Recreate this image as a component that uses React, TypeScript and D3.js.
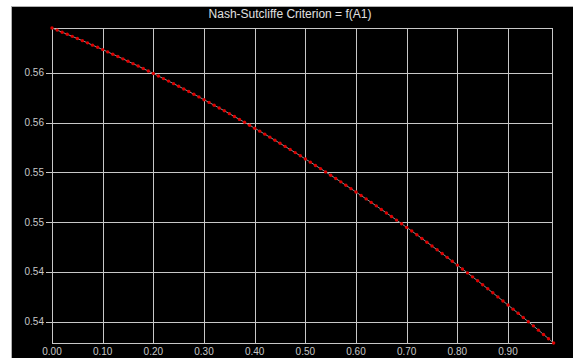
import React, { useEffect, useRef } from "react";
import * as d3 from "d3";

// A1 parameter values (x) and Nash-Sutcliffe criterion (y)
const a1Values: number[] = [
  0.00, 0.01, 0.02, 0.03, 0.04, 0.05, 0.06, 0.07, 0.08, 0.09,
  0.10, 0.11, 0.12, 0.13, 0.14, 0.15, 0.16, 0.17, 0.18, 0.19,
  0.20, 0.21, 0.22, 0.23, 0.24, 0.25, 0.26, 0.27, 0.28, 0.29,
  0.30, 0.31, 0.32, 0.33, 0.34, 0.35, 0.36, 0.37, 0.38, 0.39,
  0.40, 0.41, 0.42, 0.43, 0.44, 0.45, 0.46, 0.47, 0.48, 0.49,
  0.50, 0.51, 0.52, 0.53, 0.54, 0.55, 0.56, 0.57, 0.58, 0.59,
  0.60, 0.61, 0.62, 0.63, 0.64, 0.65, 0.66, 0.67, 0.68, 0.69,
  0.70, 0.71, 0.72, 0.73, 0.74, 0.75, 0.76, 0.77, 0.78, 0.79,
  0.80, 0.81, 0.82, 0.83, 0.84, 0.85, 0.86, 0.87, 0.88, 0.89,
  0.90, 0.91, 0.92, 0.93, 0.94, 0.95, 0.96, 0.97, 0.98, 0.99,
];

const nashValues: number[] = [
  0.56699, 0.56678, 0.56657, 0.56636, 0.56615, 0.56593, 0.56572, 0.56550, 0.56527, 0.56505,
  0.56482, 0.56459, 0.56436, 0.56413, 0.56389, 0.56365, 0.56341, 0.56317, 0.56292, 0.56267,
  0.56242, 0.56217, 0.56191, 0.56166, 0.56140, 0.56114, 0.56087, 0.56061, 0.56034, 0.56007,
  0.55979, 0.55952, 0.55924, 0.55896, 0.55868, 0.55839, 0.55810, 0.55781, 0.55752, 0.55723,
  0.55693, 0.55663, 0.55633, 0.55603, 0.55572, 0.55541, 0.55510, 0.55479, 0.55448, 0.55416,
  0.55384, 0.55352, 0.55319, 0.55287, 0.55254, 0.55221, 0.55188, 0.55154, 0.55120, 0.55086,
  0.55052, 0.55017, 0.54983, 0.54948, 0.54913, 0.54877, 0.54842, 0.54806, 0.54770, 0.54733,
  0.54697, 0.54660, 0.54623, 0.54586, 0.54548, 0.54510, 0.54472, 0.54434, 0.54396, 0.54357,
  0.54318, 0.54279, 0.54240, 0.54200, 0.54161, 0.54121, 0.54080, 0.54040, 0.53999, 0.53958,
  0.53917, 0.53876, 0.53834, 0.53792, 0.53750, 0.53708, 0.53665, 0.53622, 0.53579, 0.53536,
];

const xTicks: number[] = [0, 0.1, 0.2, 0.3, 0.4, 0.5, 0.6, 0.7, 0.8, 0.9];
const yTicks: number[] = [0.5625, 0.5575, 0.5525, 0.5475, 0.5425, 0.5375];

const title = "Nash-Sutcliffe Criterion = f(A1)";

export default function App() {
  const ref = useRef<SVGSVGElement | null>(null);

  useEffect(() => {
    const width = 573;
    const height = 358;
    const margin = { top: 28, left: 52, bottom: 15, right: 21 };
    const iwidth = width - margin.left - margin.right;
    const iheight = height - margin.top - margin.bottom;

    const svg = d3.select(ref.current);
    svg.selectAll("*").remove();

    svg.append("rect").attr("width", width).attr("height", height).attr("fill", "#fff");
    svg.append("rect")
      .attr("x", 11.5).attr("y", 6.5)
      .attr("width", width - 11).attr("height", height - 6)
      .attr("fill", "#000")
      .attr("stroke", "#b0b0b0");

    svg.append("text")
      .attr("x", 290).attr("y", 18)
      .attr("text-anchor", "middle")
      .attr("font-family", "Arial, 'Liberation Sans', sans-serif")
      .attr("font-size", 12)
      .attr("fill", "#e0e0e0")
      .text(title);

    const g = svg.append("g").attr("transform", `translate(${margin.left}, ${margin.top})`);

    const x = d3.scaleLinear().domain([0, 0.9868]).range([0, iwidth]);
    const y = d3.scaleLinear().domain([0.53536, 0.56699]).range([iheight, 0]);

    const grid = "#c8c8c8";

    // grid
    g.selectAll(".vgrid").data(xTicks).enter().append("line")
      .attr("x1", d => Math.round(x(d)) + 0.5).attr("x2", d => Math.round(x(d)) + 0.5)
      .attr("y1", 0).attr("y2", iheight)
      .attr("stroke", grid);
    g.selectAll(".hgrid").data(yTicks).enter().append("line")
      .attr("x1", -6).attr("x2", iwidth)
      .attr("y1", d => Math.round(y(d)) + 0.5).attr("y2", d => Math.round(y(d)) + 0.5)
      .attr("stroke", grid);

    g.append("rect")
      .attr("x", 0.5).attr("y", 0.5)
      .attr("width", iwidth).attr("height", iheight)
      .attr("fill", "none").attr("stroke", grid);

    const font = "Arial, 'Liberation Sans', sans-serif";

    g.selectAll(".ylab").data(yTicks).enter().append("text")
      .attr("x", -8).attr("y", d => y(d))
      .attr("dy", "0.35em")
      .attr("text-anchor", "end")
      .attr("font-family", font).attr("font-size", 10)
      .attr("fill", "#c8c8c8")
      .text(d => d3.format(".2f")(d));

    g.selectAll(".xlab").data(xTicks).enter().append("text")
      .attr("x", d => x(d)).attr("y", iheight + 12)
      .attr("text-anchor", "middle")
      .attr("font-family", font).attr("font-size", 10)
      .attr("fill", "#c8c8c8")
      .text(d => d3.format(".2f")(d));

    const pts = a1Values.map((a, i) => [a, nashValues[i]] as [number, number]);

    const line = d3.line<[number, number]>().x(d => x(d[0])).y(d => y(d[1]));
    g.append("path")
      .datum(pts)
      .attr("d", line)
      .attr("fill", "none")
      .attr("stroke", "#909090")
      .attr("stroke-width", 1);

    g.selectAll(".dot").data(pts).enter().append("circle")
      .attr("cx", d => x(d[0])).attr("cy", d => y(d[1]))
      .attr("r", 1.7)
      .attr("fill", "#e00000");
  }, []);

  return (
    <svg ref={ref} width={573} height={358}
      style={{ position: "absolute", left: 0, top: 0, display: "block" }} />
  );
}
